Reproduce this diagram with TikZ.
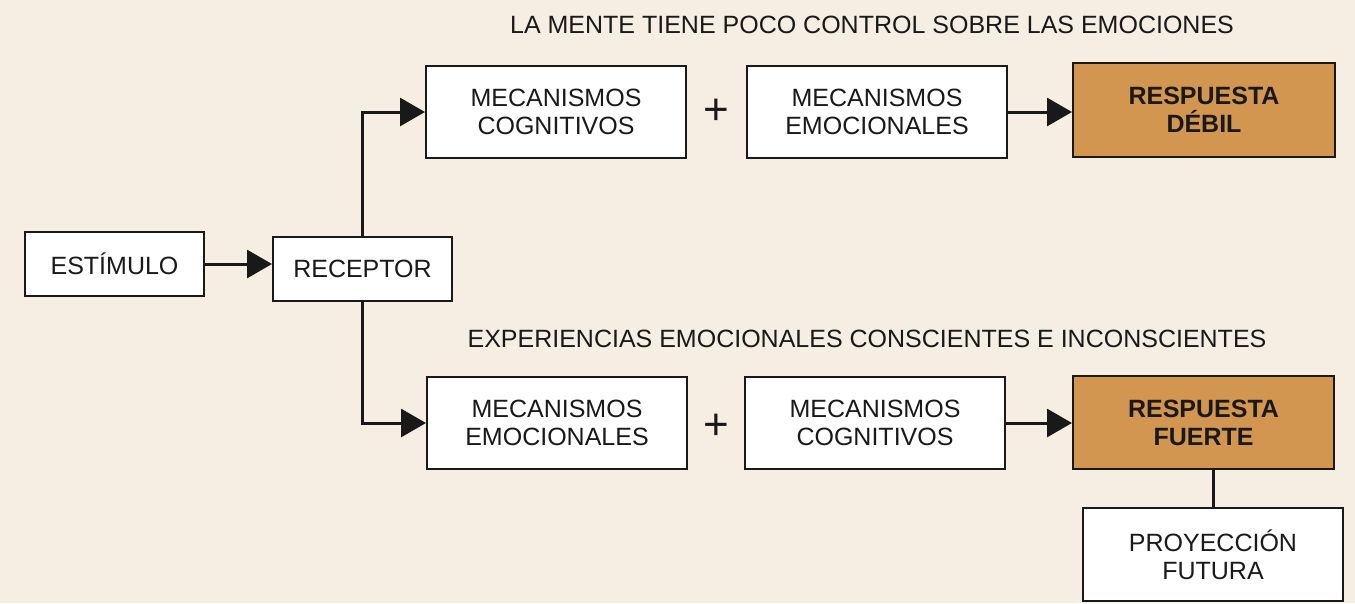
\documentclass[tikz,border=0pt]{standalone}
\usepackage{fontspec}
\setmainfont{Liberation Sans}
\usetikzlibrary{arrows.meta}
\definecolor{bg}{RGB}{246,238,227}
\definecolor{resp}{RGB}{210,150,80}
\definecolor{ink}{RGB}{25,25,25}
\begin{document}
\begin{tikzpicture}[x=1pt,y=-1pt,
  box/.style={draw=ink,line width=2pt,fill=white,inner sep=0pt,align=center,
    font=\fontsize{25}{28}\selectfont,text=ink},
  respbox/.style={box,fill=resp,font=\fontsize{25}{28}\selectfont\bfseries},
  conn/.style={line width=3pt,draw=ink},
  arr/.style={conn,-{Triangle[length=25pt,width=28pt]}},
  lbl/.style={font=\fontsize{25}{28}\selectfont,text=ink,inner sep=0pt}]
\fill[bg] (0,0) rectangle (1355,603);
\useasboundingbox (0,0) rectangle (1355,603);
\node[box,minimum width=179pt,minimum height=64pt] (est) at (114.5,264) {ESTÍMULO};
\node[box,minimum width=179pt,minimum height=64pt] (rec) at (362.5,269) {RECEPTOR};
\node[box,minimum width=260pt,minimum height=92pt] (c1) at (556,112) {MECANISMOS\\COGNITIVOS};
\node[box,minimum width=260pt,minimum height=92pt] (e1) at (877,112) {MECANISMOS\\EMOCIONALES};
\node[respbox,minimum width=262pt,minimum height=94pt] (r1) at (1204,110) {RESPUESTA\\DÉBIL};
\node[box,minimum width=260pt,minimum height=92pt] (e2) at (557,423) {MECANISMOS\\EMOCIONALES};
\node[box,minimum width=260pt,minimum height=92pt] (c2) at (875,423) {MECANISMOS\\COGNITIVOS};
\node[respbox,minimum width=261pt,minimum height=93pt] (r2) at (1203.5,422.5) {RESPUESTA\\FUERTE};
\node[box,minimum width=260pt,minimum height=93pt] (p) at (1213,554.5) {PROYECCIÓN\\FUTURA};
\node[lbl] (t1) at (872,25) {LA MENTE TIENE POCO CONTROL SOBRE LAS EMOCIONES};
\node[lbl] (t2) at (867,339) {EXPERIENCIAS EMOCIONALES CONSCIENTES E INCONSCIENTES};
\node[lbl,font=\fontsize{44}{44}\selectfont] (plus1) at (716,112) {+};
\node[lbl,font=\fontsize{44}{44}\selectfont] (plus2) at (716,427) {+};
\draw[arr] (est.east) -- (est.east -| rec.west);
\draw[arr] (rec.north) |- (c1.west);
\draw[arr] (rec.south) |- (e2.west);
\draw[arr] (e1.east) -- (e1.east -| r1.west);
\draw[arr] (c2.east) -- (c2.east -| r2.west);
\draw[conn] (r2.south -| p.north) -- (p.north);
\end{tikzpicture}
\end{document}
